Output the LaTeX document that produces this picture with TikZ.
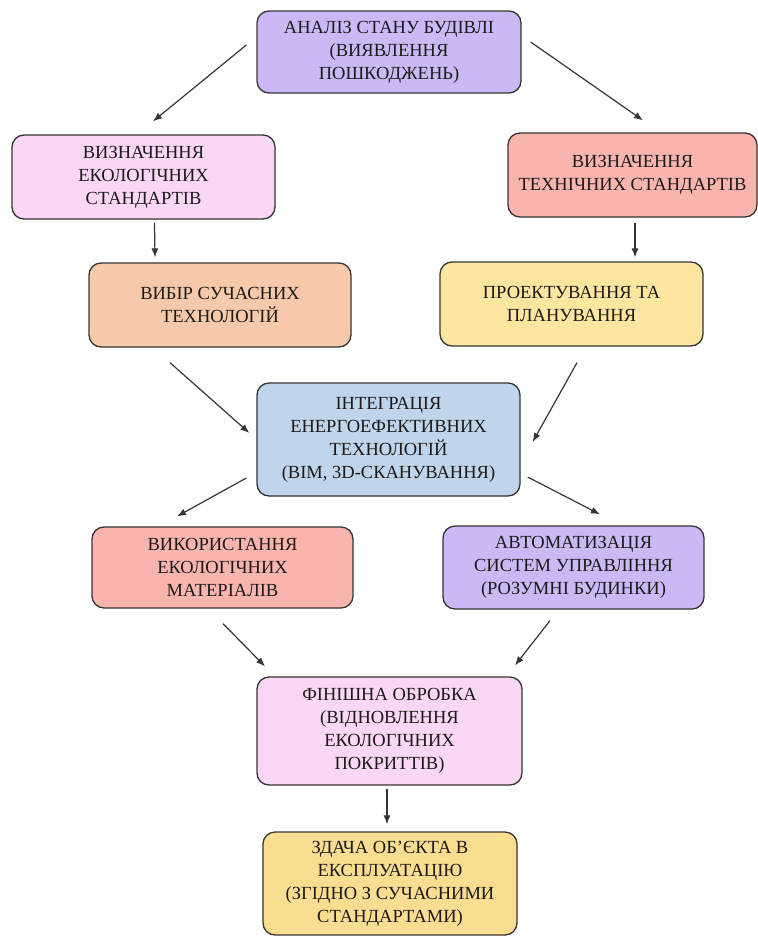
\documentclass[tikz,border=0pt]{standalone}
\usepackage{fontspec}
\setmainfont{Liberation Serif}
\usetikzlibrary{arrows.meta}
\definecolor{lilac}{HTML}{CBB9F6}
\definecolor{rosy}{HTML}{F9D7F5}
\definecolor{peach}{HTML}{F5C9A9}
\definecolor{salmon}{HTML}{F8B5AD}
\definecolor{sand}{HTML}{FCE6A0}
\definecolor{sky}{HTML}{BED5EC}
\definecolor{gold}{HTML}{F9DD90}
\definecolor{boxline}{HTML}{383434}
\definecolor{txt}{HTML}{1E1A1A}

\begin{document}
\begin{tikzpicture}[x=1pt,y=-1pt,
	box/.style={draw=boxline,line width=1.3pt,rounded corners=12pt,align=center,
		inner sep=0pt,text=txt,font=\fontsize{18.5}{23}\selectfont},
	arr/.style={-{Latex[length=9pt,width=7pt]},line width=1.2pt,draw=boxline}]
	\useasboundingbox (0,0) rectangle (758,938);
	% upper part
	\node[box,fill=lilac,minimum width=264pt,minimum height=82pt] (analiz) at (389,52)
	{АНАЛІЗ СТАНУ БУДІВЛІ\\(ВИЯВЛЕННЯ\\ПОШКОДЖЕНЬ)};
	\node[box,fill=rosy,minimum width=263pt,minimum height=84pt] (ekostd) at (143.5,177)
	{ВИЗНАЧЕННЯ\\ЕКОЛОГІЧНИХ\\СТАНДАРТІВ};
	\node[box,fill=salmon,minimum width=249pt,minimum height=84pt] (tehstd) at (632.5,175)
	{ВИЗНАЧЕННЯ\\ТЕХНІЧНИХ СТАНДАРТІВ};
	\node[box,fill=peach,minimum width=262pt,minimum height=84pt] (vybir) at (220,305)
	{ВИБІР СУЧАСНИХ\\ТЕХНОЛОГІЙ};
	\node[box,fill=sand,minimum width=263pt,minimum height=84pt] (proekt) at (571.5,304)
	{ПРОЕКТУВАННЯ ТА\\ПЛАНУВАННЯ};
	% middle
	\node[box,fill=sky,minimum width=263pt,minimum height=113pt] (integr) at (388.5,439.5)
	{ІНТЕГРАЦІЯ\\ЕНЕРГОЕФЕКТИВНИХ\\ТЕХНОЛОГІЙ\\(BIM, 3D-СКАНУВАННЯ)};
	\node[box,fill=salmon,minimum width=261pt,minimum height=81pt] (mater) at (222.5,567.5)
	{ВИКОРИСТАННЯ\\ЕКОЛОГІЧНИХ\\МАТЕРІАЛІВ};
	\node[box,fill=lilac,minimum width=261pt,minimum height=83pt] (avtom) at (573.5,567.5)
	{АВТОМАТИЗАЦІЯ\\СИСТЕМ УПРАВЛІННЯ\\(РОЗУМНІ БУДИНКИ)};
	% lower part
	\node[box,fill=rosy,minimum width=265pt,minimum height=108pt] (finish) at (389.5,731)
	{ФІНІШНА ОБРОБКА\\(ВІДНОВЛЕННЯ\\ЕКОЛОГІЧНИХ\\ПОКРИТТІВ)};
	\node[box,fill=gold,minimum width=254pt,minimum height=103pt] (zdacha) at (390,883.5)
	{ЗДАЧА ОБ’ЄКТА В\\ЕКСПЛУАТАЦІЮ\\(ЗГІДНО З СУЧАСНИМИ\\СТАНДАРТАМИ)};
	
	\draw[arr] ([xshift=-10pt,yshift=7pt]analiz.west) -- ([xshift=9.5pt,yshift=13pt]ekostd.north);
	\draw[arr] ([xshift=9pt,yshift=10pt]analiz.east) -- ([xshift=10.5pt,yshift=12pt]tehstd.north);
	\draw[arr] ([xshift=11pt,yshift=-3pt]ekostd.south) -- ([xshift=-65pt,yshift=5pt]vybir.north);
	\draw[arr] ([xshift=2.5pt,yshift=-5pt]tehstd.south) -- ([xshift=63.5pt,yshift=4pt]proekt.north);
	\draw[arr] ([xshift=-50pt,yshift=-15pt]vybir.south) -- ([xshift=-7pt,yshift=6.5pt]integr.west);
	\draw[arr] ([xshift=5.5pt,yshift=-16pt]proekt.south) -- ([xshift=12pt,yshift=-2.5pt]integr.east);
	\draw[arr] ([xshift=-10pt,yshift=-38.5pt]integr.west) -- ([xshift=-45.5pt,yshift=10pt]mater.north);
	\draw[arr] ([xshift=7pt,yshift=-37.5pt]integr.east) -- ([xshift=26.5pt,yshift=11pt]avtom.north);
	\draw[arr] ([xshift=0.5pt,yshift=-15pt]mater.south) -- ([xshift=-124.5pt,yshift=10pt]finish.north);
	\draw[arr] ([xshift=-23.5pt,yshift=-11pt]avtom.south) -- ([xshift=125.5pt,yshift=11pt]finish.north);
	\draw[arr] ([xshift=-2.5pt,yshift=-3pt]finish.south) -- ([xshift=-3pt,yshift=7pt]zdacha.north);
\end{tikzpicture}
\end{document}
